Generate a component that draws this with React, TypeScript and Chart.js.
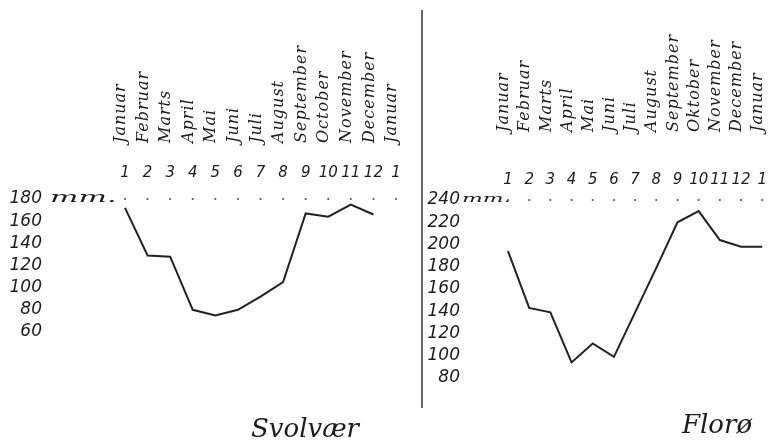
import { useEffect, useRef } from "react";
import { Chart, registerables } from "chart.js";

Chart.register(...registerables);

// ---- data ----
const tickLabels = ["1", "2", "3", "4", "5", "6", "7", "8", "9", "10", "11", "12", "1"];
const monthsSvolvaer = ["Januar", "Februar", "Marts", "April", "Mai", "Juni", "Juli", "August", "September", "October", "November", "December", "Januar"];
const monthsFloro = ["Januar", "Februar", "Marts", "April", "Mai", "Juni", "Juli", "August", "September", "Oktober", "November", "December", "Januar"];
const svolvaerMm = [172, 129, 128, 80, 75, 80, 92, 105, 167, 164, 175, 166, null];
const floroMm = [194, 143, 139, 94, 111, 99, 139, 179, 220, 230, 204, 198, 198];
const svolvaerRange = [60, 180];
const floroRange = [80, 240];
const yStep = 20;

type Panel = {
  title: string;
  months: string[];
  values: (number | null)[];
  range: number[];
  width: number;
  axisWidth: number;
  axisHeight: number;
  labelPad: number;
  xLabelPad: number;
  padRight: number;
  padBottom: number;
  nameGap: number;
  mmFont: string;
  mmScale: number;
  mmDx: number;
  titleX: number;
  titleY: number;
  divider: boolean;
};

const INK = "#1c1c1c";

function decoPlugin(p: Panel) {
  return {
    id: "deco",
    afterDraw(chart: any) {
      const ctx = chart.ctx as CanvasRenderingContext2D;
      const xs = chart.scales.x;
      const ys = chart.scales.y;
      const top = ys.getPixelForValue(ys.max);
      ctx.save();
      if (p.divider) {
        ctx.strokeStyle = "#333";
        ctx.lineWidth = 1.5;
        ctx.beginPath();
        ctx.moveTo(1, 10);
        ctx.lineTo(1, 408);
        ctx.stroke();
      }
      // dotted reference row
      ctx.fillStyle = "#555";
      tickLabels.forEach((_, i) => {
        ctx.beginPath();
        ctx.arc(xs.getPixelForValue(i), top, 1.1, 0, Math.PI * 2);
        ctx.fill();
      });
      // month names, rotated
      ctx.fillStyle = INK;
      ctx.font = 'italic 16px "DejaVu Serif"';
      (ctx as any).letterSpacing = "1px";
      ctx.textAlign = "left";
      ctx.textBaseline = "middle";
      p.months.forEach((m, i) => {
        ctx.save();
        ctx.translate(xs.getPixelForValue(i) - 4, top - p.nameGap);
        ctx.rotate(-Math.PI / 2);
        ctx.fillText(m, 0, 0);
        ctx.restore();
      });
      (ctx as any).letterSpacing = "0px";
      // unit
      ctx.font = p.mmFont;
      ctx.textAlign = "left";
      ctx.textBaseline = "middle";
      ctx.save();
      ctx.translate(ys.right - p.labelPad + p.mmDx, top - 1);
      ctx.scale(p.mmScale, 1);
      ctx.fillText("mm.", 0, 0);
      ctx.restore();
      // title
      ctx.font = 'italic 26px "DejaVu Serif"';
      ctx.textAlign = "center";
      ctx.textBaseline = "alphabetic";
      ctx.fillText(p.title, p.titleX, p.titleY);
      ctx.restore();
    },
  };
}

function PanelChart({ p, left }: { p: Panel; left: number }) {
  const ref = useRef<HTMLCanvasElement>(null);
  useEffect(() => {
    if (!ref.current) return;
    const chart = new Chart(ref.current, {
      type: "line",
      data: {
        labels: tickLabels,
        datasets: [
          {
            data: p.values,
            borderColor: "#222",
            borderWidth: 2,
            pointRadius: 0,
            tension: 0,
            fill: false,
            clip: false as any,
            spanGaps: false,
          },
        ],
      },
      options: {
        animation: false,
        responsive: false,
        maintainAspectRatio: false,
        events: [],
        layout: { padding: { left: 0, top: 0, right: p.padRight, bottom: p.padBottom } },
        plugins: { legend: { display: false }, tooltip: { enabled: false }, title: { display: false } },
        scales: {
          x: {
            type: "category",
            position: "top",
            offset: false,
            grid: { display: false, drawTicks: false },
            border: { display: false },
            ticks: {
              autoSkip: false,
              maxRotation: 0,
              minRotation: 0,
              padding: p.xLabelPad,
              color: INK,
              font: { family: "DejaVu Sans", style: "italic", size: 15 },
            },
            afterFit: (s: any) => {
              s.height = p.axisHeight;
            },
          },
          y: {
            type: "linear",
            min: p.range[0],
            max: p.range[1],
            grid: { display: false, drawTicks: false },
            border: { display: false },
            ticks: {
              stepSize: yStep,
              autoSkip: false,
              padding: p.labelPad,
              color: INK,
              font: { family: "DejaVu Sans", style: "italic", size: 17 },
            },
            afterFit: (s: any) => {
              s.width = p.axisWidth;
            },
          },
        },
      },
      plugins: [decoPlugin(p)],
    });
    return () => chart.destroy();
  }, [p]);
  return (
    <canvas
      ref={ref}
      width={p.width}
      height={441}
      style={{ position: "absolute", left, top: 0, width: p.width, height: 441 }}
    />
  );
}

const leftPanel: Panel = {
  title: "Svolvær",
  months: monthsSvolvaer,
  values: svolvaerMm,
  range: svolvaerRange,
  width: 421,
  axisWidth: 125,
  axisHeight: 199,
  labelPad: 83,
  xLabelPad: 17,
  padRight: 25,
  padBottom: 109,
  nameGap: 56,
  mmFont: 'italic 15px "DejaVu Serif"',
  mmScale: 2.0,
  mmDx: 8,
  titleX: 305,
  titleY: 437,
  divider: false,
};

const rightPanel: Panel = {
  title: "Florø",
  months: monthsFloro,
  values: floroMm,
  range: floroRange,
  width: 357,
  axisWidth: 87,
  axisHeight: 200,
  labelPad: 48,
  xLabelPad: 11,
  padRight: 6,
  padBottom: 63,
  nameGap: 68,
  mmFont: 'italic 11px "DejaVu Serif"',
  mmScale: 2.0,
  mmDx: 2,
  titleX: 296,
  titleY: 433,
  divider: true,
};

export default function App() {
  return (
    <div style={{ position: "absolute", left: 0, top: 0, width: 778, height: 441, background: "#fff", overflow: "hidden" }}>
      <PanelChart p={leftPanel} left={0} />
      <PanelChart p={rightPanel} left={421} />
    </div>
  );
}
